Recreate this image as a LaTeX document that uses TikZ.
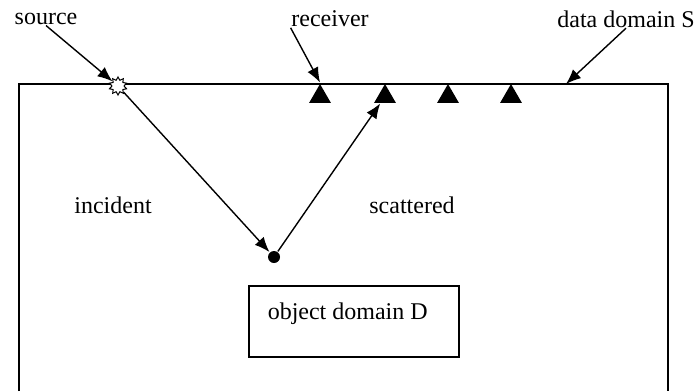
\documentclass[tikz,border=0pt]{standalone}
\usepackage{fontspec}
\setmainfont{Liberation Serif}
\usetikzlibrary{arrows.meta, positioning, shapes.geometric}

\tikzset{
  lbl/.style={inner sep=0pt, font=\fontsize{24}{28}\selectfont},
  receiverbox/.style={regular polygon, regular polygon sides=3, fill=black,
    inner sep=0pt, minimum size=25pt},
  ray/.style={line width=1.4pt, -{Latex[length=15pt,width=12pt]}},
}

\begin{document}
\begin{tikzpicture}[x=1pt, y=-1pt, line width=1.5pt]
    \useasboundingbox (0,0) rectangle (698,391);

    % data domain S
    \draw (19,391) -- (19,84) -- (668,84) -- (668,391);

    % object domain D
    \node[draw, minimum width=210pt, minimum height=71pt, inner sep=0pt] (objD) at (354,321.5) {};
    \node[lbl, anchor=west] (objlabel) at (267,314) {object domain D};

    % receivers
    \foreach \x [count=\i] in {320,385,448,511}
        \node[receiverbox] (r\i) at (\x,96.5) {};

    % source and scatterer
    \node[star, star points=10, star point ratio=1.5, draw, fill=white,
          line width=1pt, inner sep=0pt, minimum size=18pt] (src) at (118,86) {};
    \node[circle, fill=black, inner sep=0pt, minimum size=12pt] (dot) at (274,257) {};
    \coordinate (sedge) at (566,84);

    % labels
    \node[lbl] (source)   at (46,19)  {source};
    \node[lbl] (receiver) at (330,19) {receiver};
    \node[lbl] (dataS)    at (626,19) {data domain S};
    \node[lbl] (incident) at (113,205) {incident};
    \node[lbl] (scattered) at (412,205) {scattered};

    \draw[ray] (source.south) -- (src);
    \draw[ray] (receiver.south west) -- (r1.corner 1);
    \draw[ray] (dataS.south) -- (sedge);
    \draw[ray] (src) -- (dot);
    \draw[ray] (dot) -- (r2);
\end{tikzpicture}
\end{document}
